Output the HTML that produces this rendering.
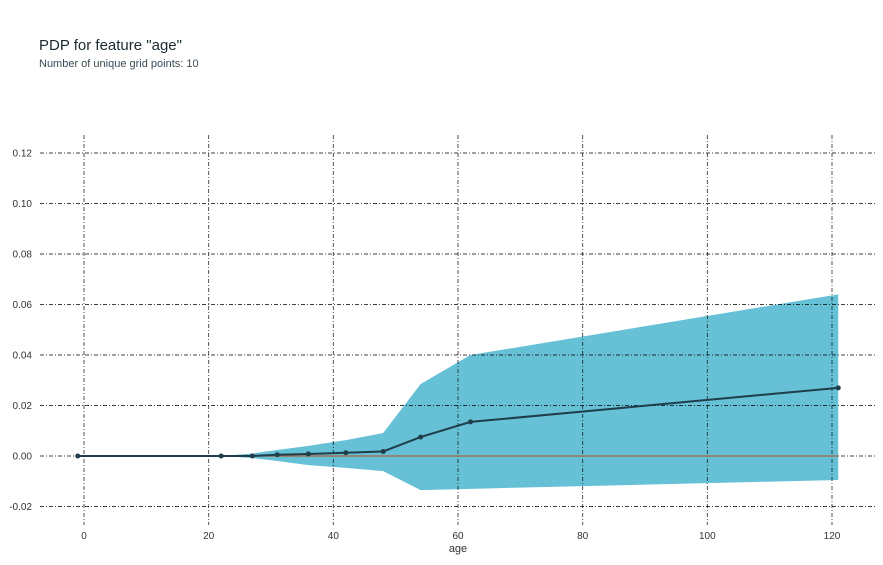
<!DOCTYPE html>
<html><head><meta charset="utf-8"><style>
body{margin:0;background:#fff;font-family:"Liberation Sans",sans-serif;}
svg text{font-family:"Liberation Sans",sans-serif;}
</style></head><body>
<svg id="chart" width="883" height="560" xmlns="http://www.w3.org/2000/svg">
<text x="39" y="50" font-size="15" fill="#1a2a33">PDP for feature "age"</text>
<text x="39" y="67" font-size="11" fill="#3a4a53">Number of unique grid points: 10</text>
<g id="band"></g><g id="grid"></g><g id="series"></g><g id="ticks"></g>
<text x="458" y="552" font-size="11" fill="#333" text-anchor="middle">age</text>
</svg>
<script>
const gridX=[-1,22,27,31,36,42,48,54,62,121];
const pdpValues=[0,0,0,0.0005,0.0008,0.0013,0.0018,0.0075,0.0135,0.027];
const upperValues=[0,0,0.001,0.0024,0.004,0.0063,0.0091,0.0285,0.04,0.064];
const lowerValues=[0,0,-0.0008,-0.002,-0.0036,-0.0047,-0.006,-0.0135,-0.013,-0.0095];
const xTicks=[0,20,40,60,80,100,120];
const yTicks=[-0.02,0,0.02,0.04,0.06,0.08,0.10,0.12];
const xs=v=>84+v*(832-84)/120;
const ys=v=>456-v*(456-153)/0.12;
const NS='http://www.w3.org/2000/svg';
function mk(tag,parent,attrs){const e=document.createElementNS(NS,tag);for(const k in attrs)e.setAttribute(k,attrs[k]);document.getElementById(parent).appendChild(e);return e;}
let pts=gridX.map((x,i)=>xs(x)+','+ys(upperValues[i]));
for(let i=gridX.length-1;i>=0;i--)pts.push(xs(gridX[i])+','+ys(lowerValues[i]));
const band=mk('polygon','band',{points:pts.join(' '),fill:'#66c0d6'});


xTicks.forEach(t=>{
 const l=mk('line','grid',{x1:xs(t),x2:xs(t),y1:135,y2:525,stroke:'#000','stroke-width':0.9,'stroke-dasharray':'4,2,1,2','stroke-opacity':0.75});
 
 
 const tx=mk('text','ticks',{x:xs(t),y:539,'font-size':10,fill:'#333','text-anchor':'middle'});
 tx.textContent=t;
 
 
});
yTicks.forEach(t=>{
 const l=mk('line','grid',{x1:40,x2:877,y1:ys(t),y2:ys(t),stroke:'#000','stroke-width':0.9,'stroke-dasharray':'4,2,1,2','stroke-opacity':0.75});
 
 
 const tx=mk('text','ticks',{x:32,y:ys(t)+3.5,'font-size':10,fill:'#333','text-anchor':'end'});
 tx.textContent=t.toFixed(2);
 
 
});
const z=mk('line','series',{x1:xs(gridX[0]),x2:xs(gridX[gridX.length-1]),y1:ys(0),y2:ys(0),stroke:'#a0705a','stroke-width':1.5});


const pl=mk('polyline','series',{points:gridX.map((x,i)=>xs(x)+','+ys(pdpValues[i])).join(' '),fill:'none',stroke:'#1f3d4a','stroke-width':2});


gridX.forEach((x,i)=>{
 const c=mk('circle','series',{cx:xs(x),cy:ys(pdpValues[i]),r:2.5,fill:'#1f3d4a'});
 
 
});
</script>
</body></html>
